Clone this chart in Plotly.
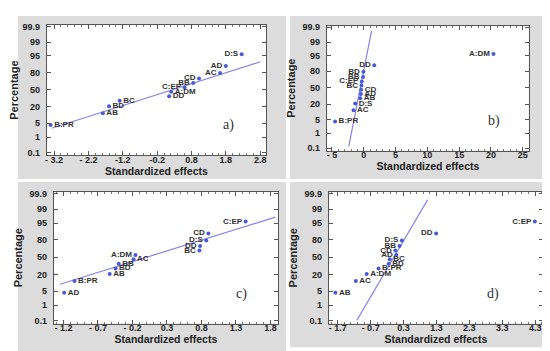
import plotly.graph_objects as go
from statistics import NormalDist

# ---------------- data ----------------
y_tick_pct = [0.1, 1, 5, 20, 50, 80, 95, 99, 99.9]
y_tick_text = ["0.1", "1", "5", "20", "50", "80", "95", "99", "99.9"]

# panel a)
a_terms = ["B:PR", "AB", "BD", "BC", "DD", "A:DM", "C:EP", "BB", "CD", "AC", "AD", "D:S"]
a_effects = [-3.30, -1.78, -1.60, -1.29, 0.15, 0.21, 0.60, 0.85, 1.02, 1.63, 1.80, 2.26]
a_percent = [4.2, 12.5, 20.8, 29.2, 37.5, 45.8, 54.2, 62.5, 70.8, 79.2, 87.5, 95.8]
a_line_x = [-3.27, 2.80]
a_line_pct = [2.94, 91.3]
a_xticks = [-3.2, -2.2, -1.2, -0.2, 0.8, 1.8, 2.8]
a_xticktext = ["- 3.2", "- 2.2", "-1.2", "-0.2", "0.8", "1.8", "2.8"]

# panel b)
b_terms = ["B:PR", "AC", "D:S", "AB", "AD", "CD", "BC", "C:EP", "BB", "BD", "DD", "A:DM"]
b_effects = [-4.5, -1.6, -1.35, -0.55, -0.45, -0.40, -0.35, -0.30, -0.10, -0.05, 1.65, 20.4]
b_percent = [4.2, 12.5, 20.8, 29.2, 37.5, 45.8, 54.2, 62.5, 70.8, 79.2, 87.5, 95.8]
b_line_x = [-2.36, 1.23]
b_line_pct = [0.126, 99.82]
b_xticks = [-5, 0, 5, 10, 15, 20, 25]
b_xticktext = ["- 5", "0", "5", "10", "15", "20", "25"]

# panel c)
c_terms = ["AD", "B:PR", "AB", "BD", "BB", "AC", "A:DM", "BC", "DD", "D:S", "CD", "C:EP"]
c_effects = [-1.19, -1.04, -0.53, -0.445, -0.40, -0.185, -0.156, 0.77, 0.78, 0.87, 0.90, 1.44]
c_percent = [4.2, 12.5, 20.8, 29.2, 37.5, 45.8, 54.2, 62.5, 70.8, 79.2, 87.5, 95.8]
c_line_x = [-1.25, 1.87]
c_line_pct = [9.5, 97.4]
c_xticks = [-1.2, -0.7, -0.2, 0.3, 0.8, 1.3, 1.8]
c_xticktext = ["- 1.2", "- 0.7", "- 0.2", "0.3", "0.8", "1.3", "1.8"]

# panel d)
d_terms = ["AB", "AC", "A:DM", "B:PR", "BD", "BC", "AD", "CD", "BB", "D:S", "DD", "C:EP"]
d_effects = [-1.77, -1.15, -0.82, -0.46, -0.15, -0.12, 0.08, 0.05, 0.18, 0.25, 1.29, 4.29]
d_percent = [4.2, 12.5, 20.8, 29.2, 37.5, 45.8, 54.2, 62.5, 70.8, 79.2, 87.5, 95.8]
d_line_x = [-1.115, 1.03]
d_line_pct = [0.114, 99.73]
d_xticks = [-1.7, -0.7, 0.3, 1.3, 2.3, 3.3, 4.3]
d_xticktext = ["- 1.7", "- 0.7", "0.3", "1.3", "2.3", "3.3", "4.3"]

panel_letters = ["a)", "b)", "c)", "d)"]

# ---------------- helpers ----------------
nd = NormalDist()


def z(p_list):
    return [nd.inv_cdf(p / 100.0) for p in p_list]


W, H = 550, 351
FONT = "Liberation Sans, Arial, sans-serif"
POINT_COLOR = "#4a5ad6"
LINE_COLOR = "#8585e8"

panels = [
    dict(terms=a_terms, x=a_effects, p=a_percent, lx=a_line_x, lp=a_line_pct,
         xt=a_xticks, xtt=a_xticktext, xr=[-3.41, 2.97], minor=0.2,
         box=(37, 257, 14, 147), gray=(8, 277, 5, 171), letter=(0.862, 0.158)),
    dict(terms=b_terms, x=b_effects, p=b_percent, lx=b_line_x, lp=b_line_pct,
         xt=b_xticks, xtt=b_xticktext, xr=[-5.8, 26.0], minor=1.0,
         box=(318, 521, 15, 142), gray=(281, 543, 5, 171), letter=(0.864, 0.16)),
    dict(terms=c_terms, x=c_effects, p=c_percent, lx=c_line_x, lp=c_line_pct,
         xt=c_xticks, xtt=c_xticktext, xr=[-1.34, 1.91], minor=0.1,
         box=(44, 269, 184, 318), gray=(8, 277, 174, 346), letter=(0.871, 0.151)),
    dict(terms=d_terms, x=d_effects, p=d_percent, lx=d_line_x, lp=d_line_pct,
         xt=d_xticks, xtt=d_xticktext, xr=[-1.97, 4.54], minor=0.2,
         box=(320, 535, 184, 318), gray=(281, 545, 174, 342), letter=(0.806, 0.147)),
]

fig = go.Figure()
shapes = []
annotations = []
layout_axes = {}

for i, pn in enumerate(panels):
    k = "" if i == 0 else str(i + 1)
    xa, ya = "x" + k, "y" + k
    x0, x1, y0, y1 = pn["box"]
    gx0, gx1, gy0, gy1 = pn["gray"]
    shapes.append(dict(type="rect", xref="paper", yref="paper", layer="below",
                       x0=gx0 / W, x1=gx1 / W, y0=1 - gy1 / H, y1=1 - gy0 / H,
                       fillcolor="#dcdcdc", line=dict(width=0)))
    shapes.append(dict(type="rect", xref="paper", yref="paper", layer="below",
                       x0=x0 / W, x1=x1 / W, y0=1 - y1 / H, y1=1 - y0 / H,
                       fillcolor="white", line=dict(width=0)))

    # reference line
    fig.add_trace(go.Scatter(x=pn["lx"], y=z(pn["lp"]), mode="lines",
                             line=dict(color=LINE_COLOR, width=1.2),
                             xaxis=xa, yaxis=ya, showlegend=False, hoverinfo="skip"))
    # points
    zs = z(pn["p"])
    pos = ["middle left" if v > 0 else "middle right" for v in zs]
    fig.add_trace(go.Scatter(x=pn["x"], y=zs, mode="markers+text", text=pn["terms"],
                             textposition=pos,
                             textfont=dict(family=FONT, size=8, color="#333333", weight="bold"),
                             marker=dict(color=POINT_COLOR, size=4),
                             xaxis=xa, yaxis=ya, showlegend=False))

    layout_axes["xaxis" + k] = dict(
        domain=[x0 / W, x1 / W], anchor=ya, range=pn["xr"],
        tickmode="array", tickvals=pn["xt"], ticktext=pn["xtt"],
        ticks="inside", ticklen=4, tickcolor="#555", mirror="ticks",
        showline=True, linecolor="#555", linewidth=1, showgrid=False, zeroline=False,
        ticklabelstandoff=-4,
        minor=dict(ticks="inside", ticklen=2, tick0=pn["xt"][0], dtick=pn["minor"],
                   tickcolor="#777", showgrid=False),
        tickfont=dict(family=FONT, size=9, color="#222", weight="bold"),
        title=dict(text="Standardized effects", standoff=1,
                   font=dict(family=FONT, size=10.5, color="#222", weight="bold")),
    )
    layout_axes["yaxis" + k] = dict(
        domain=[1 - y1 / H, 1 - y0 / H], anchor=xa, range=[-3.22, 3.17],
        tickmode="array", tickvals=z(y_tick_pct), ticktext=y_tick_text,
        ticks="inside", ticklen=4, tickcolor="#555", mirror="ticks",
        showline=True, linecolor="#555", linewidth=1, showgrid=False, zeroline=False,
        ticklabelstandoff=4,
        tickfont=dict(family=FONT, size=9, color="#222", weight="bold"),
        title=dict(text="Percentage", standoff=4,
                   font=dict(family=FONT, size=11, color="#222", weight="bold")),
    )
    lx, ly = pn["letter"]
    annotations.append(dict(text=panel_letters[i], xref=xa + " domain", yref=ya + " domain",
                            x=lx, y=ly, showarrow=False,
                            font=dict(family="Liberation Serif, Times New Roman, serif",
                                      size=14, color="#333")))

fig.update_layout(width=W, height=H, margin=dict(l=0, r=0, t=0, b=0),
                  paper_bgcolor="white", plot_bgcolor="white",
                  shapes=shapes, annotations=annotations, **layout_axes)

fig.write_html("out.html")
